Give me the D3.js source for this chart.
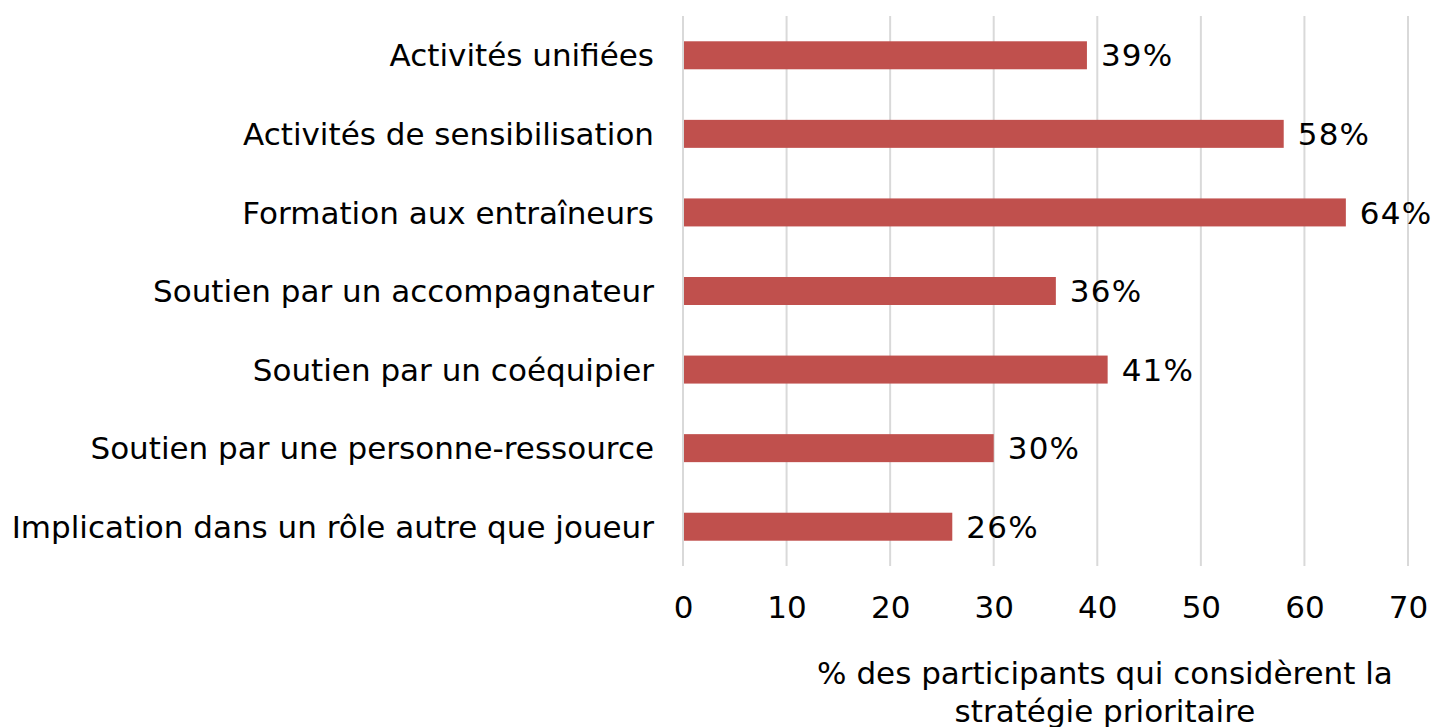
<!DOCTYPE html>
<html>
<head>
<meta charset="utf-8">
<script src="https://cdn.jsdelivr.net/npm/d3@7"></script>
<style>
  html, body { margin: 0; padding: 0; background: #fff; }
  svg { display: block; font-family: "DejaVu Sans", Verdana, sans-serif; }
</style>
</head>
<body>
<svg id="chart" width="1435" height="727"></svg>
<script>
// Strategies, top to bottom
const categories = [
  "Activités unifiées",
  "Activités de sensibilisation",
  "Formation aux entraîneurs",
  "Soutien par un accompagnateur",
  "Soutien par un coéquipier",
  "Soutien par une personne-ressource",
  "Implication dans un rôle autre que joueur"
];
// Share of participants who consider each strategy a priority (%)
const values = [39, 58, 64, 36, 41, 30, 26];
const xTicks = [0, 10, 20, 30, 40, 50, 60, 70];
const axisTitle = ["% des participants qui considèrent la", "stratégie prioritaire"];

const svg = d3.select("#chart");
const barColor = "#C0504D";
const gridColor = "#d9d9d9";
const fs = 31;

const x = d3.scaleLinear().domain([0, 70]).range([683, 1408]);
const y = d3.scaleBand().domain(categories).range([16, 566]).padding(0);
const barH = 28;

// vertical gridlines
svg.append("g")
  .selectAll("line")
  .data(xTicks)
  .join("line")
  .attr("x1", d => x(d)).attr("x2", d => x(d))
  .attr("y1", 16).attr("y2", 566)
  .attr("stroke", gridColor)
  .attr("stroke-width", 2);

// bars
svg.append("g")
  .selectAll("rect")
  .data(values)
  .join("rect")
  .attr("x", x(0) + 1)
  .attr("y", (d, i) => y(categories[i]) + y.bandwidth() / 2 - barH / 2)
  .attr("width", d => x(d) - x(0) - 1)
  .attr("height", barH)
  .attr("fill", barColor);

// value labels
svg.append("g")
  .selectAll("text")
  .data(values)
  .join("text")
  .attr("x", d => x(d) + 14)
  .attr("y", (d, i) => y(categories[i]) + y.bandwidth() / 2)
  .attr("dy", "0.36em")
  .attr("font-size", fs)
  .attr("letter-spacing", 1.2)
  .attr("fill", "#000")
  .text(d => d + "%");

// category labels
svg.append("g")
  .selectAll("text")
  .data(categories)
  .join("text")
  .attr("x", 654)
  .attr("y", d => y(d) + y.bandwidth() / 2)
  .attr("dy", "0.36em")
  .attr("text-anchor", "end")
  .attr("font-size", fs)
  .attr("fill", "#000")
  .text(d => d);

// x axis tick labels
const xAxis = d3.axisBottom(x).tickValues(xTicks).tickSize(0).tickPadding(0);
const gx = svg.append("g").attr("transform", "translate(0,607)").call(xAxis);
gx.select(".domain").remove();
gx.selectAll("text")
  .attr("font-size", fs)
  .attr("font-family", "DejaVu Sans, Verdana, sans-serif")
  .attr("fill", "#000")
  .attr("y", 0)
  .attr("dy", "0.36em");

// axis title
svg.append("text")
  .attr("x", 1105)
  .attr("y", 673)
  .attr("text-anchor", "middle")
  .attr("font-size", fs)
  .selectAll("tspan")
  .data(axisTitle)
  .join("tspan")
  .attr("x", 1105)
  .attr("dy", (d, i) => i === 0 ? "0.36em" : "1.22em")
  .text(d => d);
</script>
</body>
</html>
